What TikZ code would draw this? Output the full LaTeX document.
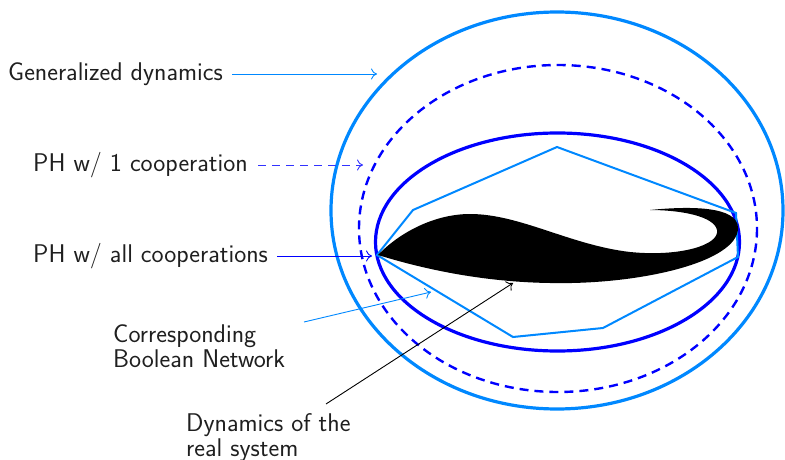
\documentclass[tikz,border=0pt]{standalone}
\usepackage{fontspec}
\usetikzlibrary{arrows.meta}
\definecolor{lblue}{RGB}{0,136,255}
\definecolor{dblue}{RGB}{0,0,255}
\definecolor{mblue}{RGB}{50,50,255}
\begin{document}
\begin{tikzpicture}[x=1pt,y=-1pt,
  lbl/.style={font=\sffamily\fontsize{25.6}{25}\selectfont, inner sep=0pt, anchor=base west, align=left, text=black!88},
  arr/.style={-{Computer Modern Rightarrow[length=6pt,width=11pt]}, line width=0.9pt}]
\useasboundingbox (0,0) rectangle (785,460);
% ellipses
\draw[lblue, line width=3.2pt] (557,210.5) ellipse [x radius=226, y radius=198.5];
\draw[dblue, line width=2.4pt, dash pattern=on 9pt off 6pt] (558,228.5) ellipse [x radius=199, y radius=163.5];
\draw[dblue, line width=3.2pt] (557.5,242) ellipse [x radius=182, y radius=109];
% polygon (Boolean network)
\draw[lblue, line width=2pt, line join=miter] (377,255) -- (413,210) -- (557,147) -- (736,213) -- (738,257) -- (603,328) -- (513,337) -- cycle;
% real dynamics blob
\fill[black] (378,255) .. controls (400,232) and (435,214) .. (470,214)
 .. controls (520,214) and (570,245) .. (630,252)
 .. controls (680,257) and (720,245) .. (717,230)
 .. controls (714,216) and (680,210) .. (650,210)
 .. controls (690,206) and (738,206) .. (738,228)
 .. controls (738,262) and (640,285) .. (550,283)
 .. controls (480,282) and (420,268) .. (378,255) -- cycle;
% labels
\node[lbl] (gen) at (8,81) {Generalized dynamics};
\node[lbl] (ph1) at (33,171) {PH w/ 1 cooperation};
\node[lbl] (pha) at (33,262) {PH w/ all cooperations};
\node[lbl] (bn) at (113,367) {Corresponding\\Boolean Network};
\node[lbl] (real) at (186,456) {Dynamics of the\\real system};
% targets
\coordinate (tgen) at (377,74);
\coordinate (tph1) at (363,165);
\coordinate (tpha) at (372,256);
\coordinate (sbn) at (304,322);
\coordinate (tbn) at (431,292);
\coordinate (sreal) at (326,404);
\coordinate (treal) at (513,283);
\draw[arr, lblue] (232,74) -- (tgen);
\draw[arr, mblue, dash pattern=on 8pt off 6pt] (258,165) -- (tph1);
\draw[arr, dblue] (277,256) -- (tpha);
\draw[arr, lblue] (sbn) -- (tbn);
\draw[arr, black] (sreal) -- (treal);
\end{tikzpicture}
\end{document}
